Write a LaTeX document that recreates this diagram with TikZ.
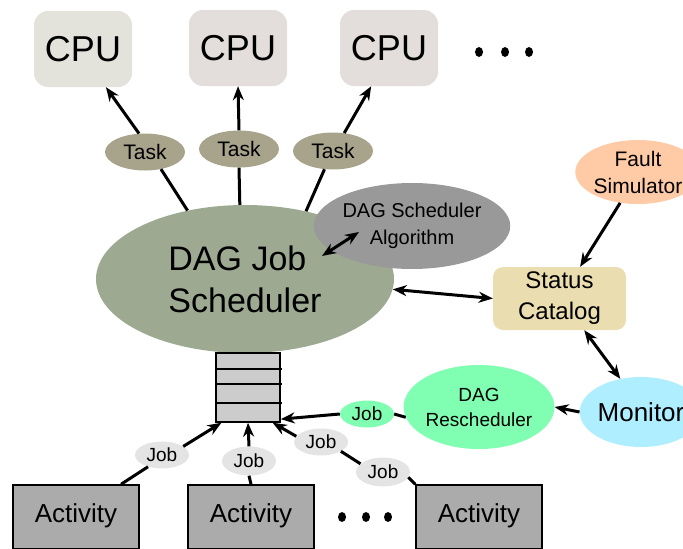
\documentclass[tikz,border=0pt]{standalone}
\usepackage{fontspec}
\setmainfont{Liberation Sans}
\usetikzlibrary{shapes.geometric,arrows.meta}
\definecolor{cpuA}{HTML}{E3E3DC}
\definecolor{cpuB}{HTML}{E3DEDB}
\definecolor{taskc}{HTML}{A8A48C}
\definecolor{schedc}{HTML}{9DAA91}
\definecolor{algoc}{HTML}{999999}
\definecolor{faultc}{HTML}{FFCBA6}
\definecolor{statc}{HTML}{EADDB0}
\definecolor{monc}{HTML}{AFEEFF}
\definecolor{greenc}{HTML}{80FFB2}
\definecolor{jobc}{HTML}{E4E4E4}
\definecolor{queuec}{HTML}{CCCCCC}
\definecolor{actc}{HTML}{ABABAB}
\begin{document}
\begin{tikzpicture}[x=1pt,y=-1pt,
  cpubox/.style={rectangle, rounded corners=14pt, minimum width=98pt, minimum height=76pt,
    inner sep=0pt, font=\fontsize{36}{40}\selectfont},
  taskell/.style={ellipse, fill=taskc, minimum width=80pt, minimum height=37pt,
    inner sep=0pt, font=\fontsize{21}{24}\selectfont},
  jobell/.style={ellipse, fill=jobc, minimum width=54pt, minimum height=27pt,
    inner sep=0pt, font=\fontsize{19}{22}\selectfont},
  actbox/.style={rectangle, draw, line width=1.5pt, fill=actc, minimum width=126pt,
    text height=37pt, text depth=27pt, inner sep=0pt, anchor=base,
    font=\fontsize{26}{30}\selectfont},
  link/.style={line width=3pt},
  arr/.style={link, -{Stealth[length=14pt,width=11pt]}},
  darr/.style={link, {Stealth[length=14pt,width=11pt]}-{Stealth[length=14pt,width=11pt]}}
]
\useasboundingbox (0,0) rectangle (683,549);
\clip (0,0) rectangle (683,549);

% processors
\node[cpubox, fill=cpuA] (cpu1) at (83,49) {CPU};
\node[cpubox, fill=cpuB] (cpu2) at (238,48) {CPU};
\node[cpubox, fill=cpuB] (cpu3) at (389,48) {CPU};
\foreach \x in {479,505,529} \fill (\x,52) ellipse [x radius=4, y radius=5];

% tasks
\node[taskell] (task1) at (145,152) {Task};
\node[taskell] (task2) at (239,149) {Task};
\node[taskell] (task3) at (333,151) {Task};

% scheduler and its algorithm
\node[ellipse, fill=schedc, minimum width=298pt, minimum height=148pt, inner sep=0pt,
  align=left, font=\fontsize{34}{42}\selectfont] (sched) at (245,279) {DAG Job\\Scheduler};
\node[ellipse, fill=algoc, minimum width=164pt, minimum height=86pt, inner sep=0pt,
  align=center, font=\fontsize{20}{27}\selectfont] (algo) at (412,226) {DAG Scheduler\\Algorithm};

% status side
\node[ellipse, fill=faultc, minimum width=106pt, minimum height=64pt, inner sep=0pt,
  align=center, font=\fontsize{21}{27}\selectfont] (fault) at (638,172) {Fault\\Simulator};
\node[rectangle, rounded corners=10pt, fill=statc, minimum width=133pt, minimum height=63pt,
  inner sep=0pt, align=center, font=\fontsize{24}{31}\selectfont] (status) at (559.5,298.5) {Status\\Catalog};
\node[ellipse, fill=monc, minimum width=100pt, minimum height=70pt, inner sep=0pt,
  font=\fontsize{26}{30}\selectfont] (monitor) at (641,412) {Monitor};
\node[ellipse, fill=greenc, minimum width=134pt, minimum height=84pt, inner sep=0pt,
  align=center, font=\fontsize{19}{25}\selectfont] (resched) at (479,407) {DAG\\Rescheduler};
\node[jobell, fill=greenc] (jobg) at (367,414) {Job};

% job queue
\node[rectangle, draw, line width=1.5pt, fill=queuec, minimum width=64pt, minimum height=69pt,
  inner sep=0pt] (queue) at (248,387.5) {};
\foreach \y in {369,384,403} \draw[line width=1.5pt] (216,\y) -- (282,\y);

% activities and their jobs
\node[actbox] (act1) at (76,522) {Activity};
\node[actbox] (act2) at (251,522) {Activity};
\node[actbox] (act3) at (479,522) {Activity};
\foreach \x in {342,366,388} \fill (\x,517) ellipse [x radius=4, y radius=5];
\node[jobell] (j1) at (162,455) {Job};
\node[jobell, minimum height=29pt] (j2) at (249,461) {Job};
\node[jobell] (j3) at (321,442) {Job};
\node[jobell, minimum height=29pt] (j4) at (383,472) {Job};

% connectors
\draw[link] (sched.130) -- (task1.-47);
\draw[arr] (task1.108) -- (cpu1.-59);
\draw[link] (sched.94) -- (task2.south);
\draw[arr] (task2.north) -- (cpu2.south);
\draw[link] (sched.48) -- (task3.-115);
\draw[arr] (task3.58) -- (cpu3.-115);
\draw[darr] ([xshift=77pt,yshift=23pt]sched.center) -- ([xshift=-53pt,yshift=-6pt]algo.center);
\draw[darr] (sched.-4) -- (status.west);
\draw[arr] (fault.-120) -- (status.57);
\draw[darr] (status.-52) -- (monitor.122);
\draw[arr] (monitor.west) -- (resched.east);
\draw[link] (resched.188) -- (jobg.east);
\draw[arr] (jobg.west) -- (queue.-44);
\draw[link] (act1.36) -- (j1.-140);
\draw[arr] (j1.22) -- (queue.-127);
\draw[link] (act2.north) -- (j2.south);
\draw[arr] (j2.north) -- (queue.south);
\draw[link] (act3.north west) -- (j4.-12);
\draw[link] (j4.160) -- (j3.-25);
\draw[arr] (j3.167) -- (queue.-55);
\end{tikzpicture}
\end{document}
